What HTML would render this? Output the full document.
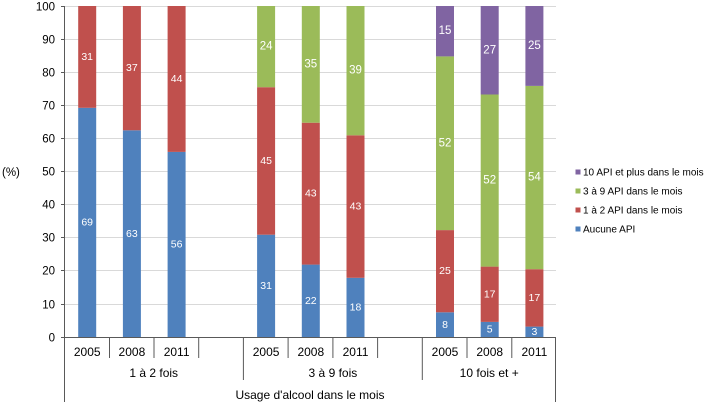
<!DOCTYPE html>
<html><head><meta charset="utf-8"><style>
html,body{margin:0;padding:0;background:#fff;}
svg{display:block;font-family:"Liberation Sans",Arial,sans-serif;}
</style></head><body>
<svg width="710" height="402" viewBox="0 0 710 402" xmlns="http://www.w3.org/2000/svg">
<!-- gridlines -->
<g stroke="#d9d9d9" stroke-width="1">
<line x1="64" y1="6.5" x2="556" y2="6.5"/>
<line x1="64" y1="39.5" x2="556" y2="39.5"/>
<line x1="64" y1="72.5" x2="556" y2="72.5"/>
<line x1="64" y1="105.5" x2="556" y2="105.5"/>
<line x1="64" y1="138.5" x2="556" y2="138.5"/>
<line x1="64" y1="171.5" x2="556" y2="171.5"/>
<line x1="64" y1="204.5" x2="556" y2="204.5"/>
<line x1="64" y1="237.5" x2="556" y2="237.5"/>
<line x1="64" y1="270.5" x2="556" y2="270.5"/>
<line x1="64" y1="304.5" x2="556" y2="304.5"/>
</g>
<!-- bars -->
<g>
<rect x="78.2" y="107.8" width="18" height="229.7" fill="#4f81bd"/>
<rect x="78.2" y="6" width="18" height="101.8" fill="#c0504d"/>
<rect x="122.9" y="130.3" width="18" height="207.2" fill="#4f81bd"/>
<rect x="122.9" y="6" width="18" height="124.3" fill="#c0504d"/>
<rect x="167.6" y="151.9" width="18" height="185.6" fill="#4f81bd"/>
<rect x="167.6" y="6" width="18" height="145.9" fill="#c0504d"/>

<rect x="257.1" y="234.7" width="18" height="102.8" fill="#4f81bd"/>
<rect x="257.1" y="87.2" width="18" height="147.5" fill="#c0504d"/>
<rect x="257.1" y="6" width="18" height="81.2" fill="#9bbb59"/>
<rect x="301.8" y="264.6" width="18" height="72.9" fill="#4f81bd"/>
<rect x="301.8" y="122.7" width="18" height="141.9" fill="#c0504d"/>
<rect x="301.8" y="6" width="18" height="116.7" fill="#9bbb59"/>
<rect x="346.5" y="277.8" width="18" height="59.7" fill="#4f81bd"/>
<rect x="346.5" y="135.3" width="18" height="142.5" fill="#c0504d"/>
<rect x="346.5" y="6" width="18" height="129.3" fill="#9bbb59"/>

<rect x="436" y="312.3" width="18" height="25.2" fill="#4f81bd"/>
<rect x="436" y="230.1" width="18" height="82.2" fill="#c0504d"/>
<rect x="436" y="56.4" width="18" height="173.7" fill="#9bbb59"/>
<rect x="436" y="6" width="18" height="50.4" fill="#8064a2"/>
<rect x="480.7" y="321.9" width="18" height="15.6" fill="#4f81bd"/>
<rect x="480.7" y="266.6" width="18" height="55.3" fill="#c0504d"/>
<rect x="480.7" y="94.5" width="18" height="172.1" fill="#9bbb59"/>
<rect x="480.7" y="6" width="18" height="88.5" fill="#8064a2"/>
<rect x="525.4" y="326.6" width="18" height="10.9" fill="#4f81bd"/>
<rect x="525.4" y="269.2" width="18" height="57.4" fill="#c0504d"/>
<rect x="525.4" y="85.9" width="18" height="183.3" fill="#9bbb59"/>
<rect x="525.4" y="6" width="18" height="79.9" fill="#8064a2"/>
</g>
<!-- data labels -->
<g fill="#ffffff" font-size="10.5" text-anchor="middle" dominant-baseline="central">
<text x="87.2" y="222.7">69</text><text x="87.2" y="56.9">31</text>
<text x="131.9" y="233.9">63</text><text x="131.9" y="68.2">37</text>
<text x="176.6" y="244.7">56</text><text x="176.6" y="79">44</text>
<text x="266.1" y="286.1">31</text><text x="266.1" y="161">45</text><text x="266.1" y="46.6" font-size="11.5">24</text>
<text x="310.8" y="301">22</text><text x="310.8" y="193.7">43</text><text x="310.8" y="64.4" font-size="11.5">35</text>
<text x="355.5" y="307.7">18</text><text x="355.5" y="206.6">43</text><text x="355.5" y="70.7" font-size="11.5">39</text>
<text x="445" y="324.9">8</text><text x="445" y="271.2">25</text><text x="445" y="143.3" font-size="11.5">52</text><text x="445" y="31.2" font-size="11.5">15</text>
<text x="489.7" y="329.7">5</text><text x="489.7" y="294.3">17</text><text x="489.7" y="180.6" font-size="11.5">52</text><text x="489.7" y="50.3" font-size="11.5">27</text>
<text x="534.4" y="332">3</text><text x="534.4" y="297.9">17</text><text x="534.4" y="177.6" font-size="11.5">54</text><text x="534.4" y="46" font-size="11.5">25</text>
</g>
<!-- axes -->
<g stroke="#595959" stroke-width="1">
<line x1="64.5" y1="6" x2="64.5" y2="402"/>
<line x1="64" y1="337.5" x2="556" y2="337.5"/>
<line x1="61" y1="6.5" x2="64.5" y2="6.5"/>
<line x1="61" y1="39.5" x2="64.5" y2="39.5"/>
<line x1="61" y1="72.5" x2="64.5" y2="72.5"/>
<line x1="61" y1="105.5" x2="64.5" y2="105.5"/>
<line x1="61" y1="138.5" x2="64.5" y2="138.5"/>
<line x1="61" y1="171.5" x2="64.5" y2="171.5"/>
<line x1="61" y1="204.5" x2="64.5" y2="204.5"/>
<line x1="61" y1="237.5" x2="64.5" y2="237.5"/>
<line x1="61" y1="270.5" x2="64.5" y2="270.5"/>
<line x1="61" y1="304.5" x2="64.5" y2="304.5"/>
<line x1="61" y1="337.5" x2="64.5" y2="337.5"/>
<!-- category ticks -->
<line x1="109.5" y1="337.5" x2="109.5" y2="358"/>
<line x1="154" y1="337.5" x2="154" y2="358"/>
<line x1="198.7" y1="337.5" x2="198.7" y2="358"/>
<line x1="243.4" y1="337.5" x2="243.4" y2="380"/>
<line x1="288.1" y1="337.5" x2="288.1" y2="358"/>
<line x1="332.9" y1="337.5" x2="332.9" y2="358"/>
<line x1="377.6" y1="337.5" x2="377.6" y2="358"/>
<line x1="422.3" y1="337.5" x2="422.3" y2="380"/>
<line x1="467" y1="337.5" x2="467" y2="358"/>
<line x1="511.8" y1="337.5" x2="511.8" y2="358"/>
<line x1="555.5" y1="337.5" x2="555.5" y2="402"/>
</g>
<!-- y labels -->
<g fill="#000" font-size="11.5" text-anchor="end">
<text x="55" y="10.5">100</text>
<text x="55" y="43.5">90</text>
<text x="55" y="76.5">80</text>
<text x="55" y="109.5">70</text>
<text x="55" y="142.5">60</text>
<text x="55" y="175.5">50</text>
<text x="55" y="208.5">40</text>
<text x="55" y="241.5">30</text>
<text x="55" y="274.5">20</text>
<text x="55" y="308.5">10</text>
<text x="55" y="341.5">0</text>
</g>
<text x="2" y="176" font-size="11.5" fill="#000">(%)</text>
<!-- x labels -->
<g fill="#000" font-size="12" text-anchor="middle">
<text x="87.2" y="356">2005</text>
<text x="131.9" y="356">2008</text>
<text x="176.6" y="356">2011</text>
<text x="266.1" y="356">2005</text>
<text x="310.8" y="356">2008</text>
<text x="355.5" y="356">2011</text>
<text x="445" y="356">2005</text>
<text x="489.7" y="356">2008</text>
<text x="534.4" y="356">2011</text>
<text x="153.7" y="377">1 à 2 fois</text>
<text x="332.9" y="377">3 à 9 fois</text>
<text x="489.2" y="377">10 fois et +</text>
<text x="310" y="399">Usage d'alcool dans le mois</text>
</g>
<!-- legend -->
<rect x="575.5" y="169.5" width="5" height="5" fill="#8064a2"/>
<rect x="575.5" y="188.5" width="5" height="5" fill="#9bbb59"/>
<rect x="575.5" y="207.5" width="5" height="5" fill="#c0504d"/>
<rect x="575.5" y="226.5" width="5" height="5" fill="#4f81bd"/>
<g fill="#000" font-size="10">
<text x="583" y="175.5">10 API et plus dans le mois</text>
<text x="583" y="194.5">3 à 9 API dans le mois</text>
<text x="583" y="213.5">1 à 2 API dans le mois</text>
<text x="583" y="232.5">Aucune API</text>
</g>
</svg>
</body></html>
